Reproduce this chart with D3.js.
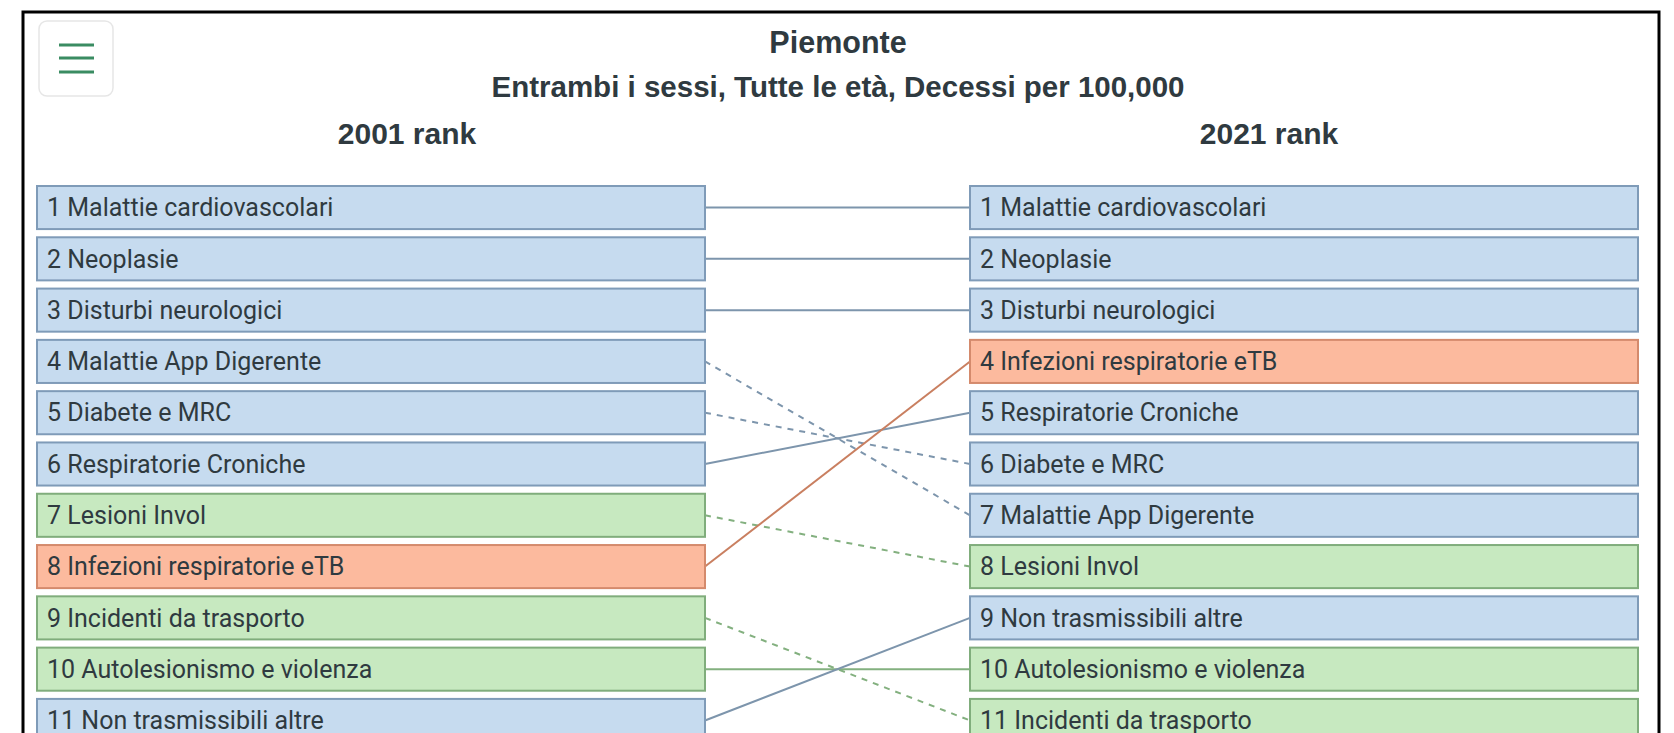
<!DOCTYPE html>
<html>
<head>
<meta charset="utf-8">
<script src="https://cdn.jsdelivr.net/npm/d3@7"></script>
<style>
  body { margin: 0; background: #fff; overflow: hidden; }
  text { font-family: Roboto, "Liberation Sans", Arial, sans-serif; }
  .title { font-family: "Liberation Sans", Arial, sans-serif; }
</style>
</head>
<body>
<script>
// rank lists, one per year
const years = ["2001", "2021"];
const rank2001 = ["Malattie cardiovascolari", "Neoplasie", "Disturbi neurologici", "Malattie App Digerente",
  "Diabete e MRC", "Respiratorie Croniche", "Lesioni Invol", "Infezioni respiratorie eTB",
  "Incidenti da trasporto", "Autolesionismo e violenza", "Non trasmissibili altre"];
const rank2021 = ["Malattie cardiovascolari", "Neoplasie", "Disturbi neurologici", "Infezioni respiratorie eTB",
  "Respiratorie Croniche", "Diabete e MRC", "Malattie App Digerente", "Lesioni Invol",
  "Non trasmissibili altre", "Autolesionismo e violenza", "Incidenti da trasporto"];
const communicable = ["Infezioni respiratorie eTB"];
const injuries = ["Lesioni Invol", "Incidenti da trasporto", "Autolesionismo e violenza"];

const width = 1674;
const height = 760;
const boxW = 668;

const fill = {ncd: '#c6dbef', inj: '#c7e9c0', com: '#fcba9e'};
const edge = {ncd: '#7f9bb8', inj: '#80ad7c', com: '#d48a6c'};
const link = {ncd: '#7d95ac', inj: '#83b07f', com: '#c97f60'};

function group(name) {
  if (communicable.includes(name)) return 'com';
  if (injuries.includes(name)) return 'inj';
  return 'ncd';
}

var svg = d3.select('body')
    .append('svg')
    .attr('width', width)
    .attr('height', height);

// outer frame
svg.append('rect')
    .attr('x', 23).attr('y', 12)
    .attr('width', 1636).attr('height', 800)
    .attr('fill', 'none')
    .attr('stroke', '#000')
    .attr('stroke-width', 3);

// menu button
var menu = svg.append('g');
menu.append('rect')
    .attr('x', 39).attr('y', 21).attr('width', 74).attr('height', 75)
    .attr('rx', 8)
    .attr('fill', '#fff')
    .attr('stroke', '#e6e6e6')
    .attr('stroke-width', 1.5);
[45, 58, 72].forEach(y => {
  menu.append('line')
      .attr('x1', 59).attr('x2', 94).attr('y1', y).attr('y2', y)
      .attr('stroke', '#3a8c62').attr('stroke-width', 3);
});

// titles
svg.append('text').attr('class', 'title').attr('x', 838).attr('y', 53)
    .attr('text-anchor', 'middle').attr('font-size', 30.5).attr('font-weight', 'bold')
    .attr('fill', '#2f3a40').text('Piemonte');
svg.append('text').attr('class', 'title').attr('x', 838).attr('y', 97)
    .attr('text-anchor', 'middle').attr('font-size', 29.5).attr('font-weight', 'bold')
    .attr('fill', '#2f3a40').text('Entrambi i sessi, Tutte le età, Decessi per 100,000');

var x = d3.scaleOrdinal().domain(years).range([37, 970]);
var y = d3.scaleBand()
    .domain(d3.range(1, rank2001.length + 1))
    .range([186, 186 + 11 * 51.3 - 8.3])
    .paddingInner(0.16);

// column headers sit a bit inward of the box centres
var headerX = d3.scaleOrdinal().domain(years).range([407, 1269]);
svg.selectAll('.yearLabel')
    .data(years)
    .join('text')
    .attr('class', 'yearLabel title')
    .attr('x', d => headerX(d))
    .attr('y', 144)
    .attr('text-anchor', 'middle')
    .attr('font-size', 30).attr('font-weight', 'bold')
    .attr('fill', '#2f3a40')
    .text(d => d + ' rank');

// connecting lines
var links = rank2001.map((name, i) => ({name: name, from: i + 1, to: rank2021.indexOf(name) + 1}));
svg.selectAll('.link')
    .data(links)
    .join('line')
    .attr('class', 'link')
    .attr('x1', x('2001') + boxW)
    .attr('x2', x('2021'))
    .attr('y1', d => y(d.from) + y.bandwidth() / 2)
    .attr('y2', d => y(d.to) + y.bandwidth() / 2)
    .attr('stroke', d => link[group(d.name)])
    .attr('stroke-width', 2)
    .attr('stroke-dasharray', d => d.to > d.from ? '6,6' : null);

// boxes
var cols = [{year: '2001', list: rank2001}, {year: '2021', list: rank2021}];
cols.forEach(c => {
  var g = svg.append('g');
  var rows = g.selectAll('g')
      .data(c.list.map((name, i) => ({name: name, rank: i + 1})))
      .join('g')
      .attr('transform', d => 'translate(' + x(c.year) + ',' + y(d.rank) + ')');
  rows.append('rect')
      .attr('width', boxW)
      .attr('height', y.bandwidth())
      .attr('fill', d => fill[group(d.name)])
      .attr('stroke', d => edge[group(d.name)])
      .attr('stroke-width', 2);
  rows.append('text')
      .attr('x', 10)
      .attr('y', y.bandwidth() / 2)
      .attr('dy', '0.35em')
      .attr('font-size', 25)
      .attr('fill', '#2f3a40')
      .text(d => d.rank + ' ' + d.name);
});
</script>
</body>
</html>
